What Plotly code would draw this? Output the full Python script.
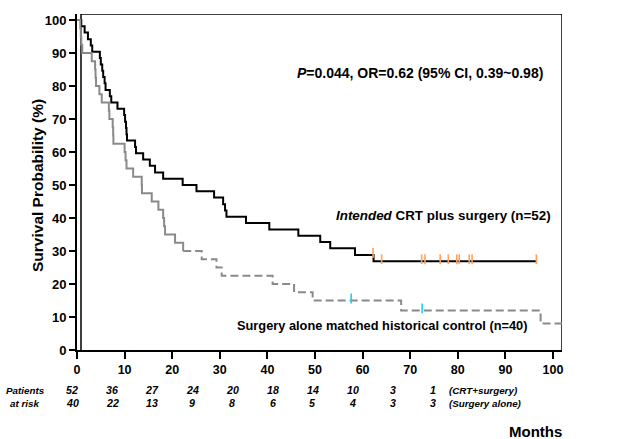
import plotly.graph_objects as go

# ---------------- data ----------------
crt_times = [0, 0.9, 1.6, 2.3, 2.9, 3.2, 4.8, 5.0, 5.3, 5.5, 5.8, 6.0, 6.9, 7.2, 8.5, 9.9,
             10.1, 10.3, 10.4, 10.5, 12.2, 12.4, 13.9, 15.3, 16.4, 18.1, 22.2, 25.1, 28.8,
             30.7, 31.1, 31.4, 35.5, 40.4, 46.5, 51.1, 53.2, 58.4, 62.3, 96.5]
crt_surv = [100, 98.1, 96.2, 94.2, 92.3, 90.4, 88.5, 86.5, 84.6, 82.7, 80.8, 78.8, 76.9, 75.0,
            73.1, 71.2, 69.2, 67.3, 65.4, 63.5, 61.5, 59.6, 57.7, 55.8, 53.8, 51.9, 50.0, 48.1,
            46.2, 44.2, 42.3, 40.4, 38.5, 36.5, 34.6, 32.7, 30.8, 28.8, 26.9, 26.9]
crt_censor = [62.2, 64.0, 72.4, 73.1, 76.3, 78.0, 79.8, 80.3, 82.4, 83.0, 96.5]

ctl_times_early = [0, 0.7, 0.8, 0.9, 1.1, 3.1, 3.8, 3.9, 4.0, 4.7, 5.2, 6.7, 6.8, 7.5, 7.6,
                   7.65, 10.0, 10.2, 10.4, 11.8, 13.6, 13.65, 15.7, 17.1, 18.1, 18.3, 18.5,
                   20.6, 22.3]
ctl_surv_early = [100, 97.5, 95, 92.5, 90, 87.5, 85, 82.5, 80, 77.5, 75, 72.5, 70, 67.5, 65,
                  62.5, 60, 57.5, 55, 52.5, 50, 47.5, 45, 42.5, 40, 37.5, 35, 32.5, 30]
ctl_times_late = [22.3, 26.2, 29.3, 30.4, 41.1, 45.6, 49.5, 68.1, 97.4, 101.9]
ctl_surv_late = [30, 27.5, 25, 22.5, 20, 17.5, 15, 12, 8, 8]
ctl_censor = [57.6, 72.5]

x_ticks = [0, 10, 20, 30, 40, 50, 60, 70, 80, 90, 100]
y_ticks = [0, 10, 20, 30, 40, 50, 60, 70, 80, 90, 100]
at_risk_crt = [52, 36, 27, 24, 20, 18, 14, 10, 3, 1]
at_risk_ctl = [40, 22, 13, 9, 8, 6, 5, 4, 3, 3]


def step_value(times, surv, t):
    v = surv[0]
    for ti, si in zip(times, surv):
        if ti <= t:
            v = si
    return v


# ---------------- layout geometry (pixels) ----------------
L, R, T, B = 77, 562, 14, 350
W, H = R - L, B - T
XMAX, YMAX = W / 4.76, H / 3.30
X_INNER = 4 / 4.76
FONT = "Arial, 'Liberation Sans', sans-serif"
GRAY = "#8a8a8a"


def px_x(p):
    return (p - L) / W


def px_y(p):
    return (B - p) / H


fig = go.Figure()

# frame box of the original chart (top, right and inner-left edges)
fig.add_trace(go.Scatter(x=[X_INNER, X_INNER, XMAX, XMAX], y=[0, YMAX, YMAX, 0], mode="lines",
                         line=dict(color="black", width=1.5), cliponaxis=False, hoverinfo="skip"))

fig.add_trace(go.Scatter(x=crt_times, y=crt_surv, mode="lines", line_shape="hv",
                         line=dict(color="black", width=2), hoverinfo="skip"))
fig.add_trace(go.Scatter(x=ctl_times_early, y=ctl_surv_early, mode="lines", line_shape="hv",
                         line=dict(color=GRAY, width=2), hoverinfo="skip"))
fig.add_trace(go.Scatter(x=ctl_times_late, y=ctl_surv_late, mode="lines", line_shape="hv",
                         line=dict(color=GRAY, width=2, dash="8px,4px"), hoverinfo="skip"))

all_ctl_t = ctl_times_early + ctl_times_late[1:]
all_ctl_s = ctl_surv_early + ctl_surv_late[1:]
fig.add_trace(go.Scatter(x=crt_censor, y=[step_value(crt_times, crt_surv, t) + 0.6 for t in crt_censor],
                         mode="markers",
                         marker=dict(symbol="line-ns-open", size=7, line=dict(color="black", width=1.6)),
                         hoverinfo="skip"))
fig.add_trace(go.Scatter(x=ctl_censor, y=[step_value(all_ctl_t, all_ctl_s, t) + 0.6 for t in ctl_censor],
                         mode="markers",
                         marker=dict(symbol="line-ns-open", size=7, line=dict(color="black", width=1.6)),
                         hoverinfo="skip"))


def ann(x, y, text, size, xref="paper", yref="paper", xanchor="center", angle=0):
    return dict(x=x, y=y, xref=xref, yref=yref, xanchor=xanchor, yanchor="middle",
                textangle=angle, showarrow=False, text=text,
                font=dict(family=FONT, size=size, color="black"))


annotations = [
    ann(98.3, 83.9, "<b><i>P</i>=0.044, OR=0.62 (95% CI, 0.39~0.98)</b>", 14, "x", "y", "right"),
    ann(100, 40.9, "<b><i>Intended</i> CRT plus surgery (n=52)</b>", 13.4, "x", "y", "right"),
    ann(95.2, 7.3, "<b>Surgery alone matched historical control (n=40)</b>", 12.8, "x", "y", "right"),
    ann(px_x(37), px_y(186), "<b>Survival Probability (%)</b>", 15.5, angle=-90),
    ann(px_x(535), px_y(431), "<b>Months</b>", 15),
]
row1_y, row2_y = px_y(390), px_y(403)
annotations.append(ann(px_x(47), row1_y, "<b><i>Patients</i></b>", 9.8, xanchor="right"))
annotations.append(ann(px_x(41), row2_y, "<b><i>at risk</i></b>", 9.8, xanchor="right"))
for i, (a, b) in enumerate(zip(at_risk_crt, at_risk_ctl)):
    cx = px_x(72 + 40.1 * i)
    annotations.append(ann(cx, row1_y, f"<b><i>{a}</i></b>", 10.6))
    annotations.append(ann(cx, row2_y, f"<b><i>{b}</i></b>", 10.6))
annotations.append(ann(px_x(447), row1_y, "<b><i>(CRT+surgery)</i></b>", 9.8, xanchor="left"))
annotations.append(ann(px_x(447), row2_y, "<b><i>(Surgery alone)</i></b>", 9.8, xanchor="left"))

fig.update_layout(
    width=618, height=439,
    margin=dict(l=L, r=618 - R, t=T, b=439 - B),
    paper_bgcolor="white", plot_bgcolor="white",
    showlegend=False,
    annotations=annotations,
    xaxis=dict(range=[0, XMAX], tickmode="array", tickvals=x_ticks,
               ticktext=[f"<b>{t}</b>" for t in x_ticks],
               showgrid=False, zeroline=False, showline=True, linecolor="black", linewidth=2,
               ticks="outside", ticklen=7, tickwidth=1.5, tickcolor="black",
               tickfont=dict(family=FONT, size=12.5, color="black")),
    yaxis=dict(range=[0, YMAX], tickmode="array", tickvals=y_ticks,
               ticktext=[f"<b>{t}</b>" for t in y_ticks],
               showgrid=False, zeroline=False, showline=True, linecolor="black", linewidth=2,
               ticks="outside", ticklen=6, tickwidth=1.5, tickcolor="black",
               tickfont=dict(family=FONT, size=13, color="black")),
)

fig.write_html("out.html")
